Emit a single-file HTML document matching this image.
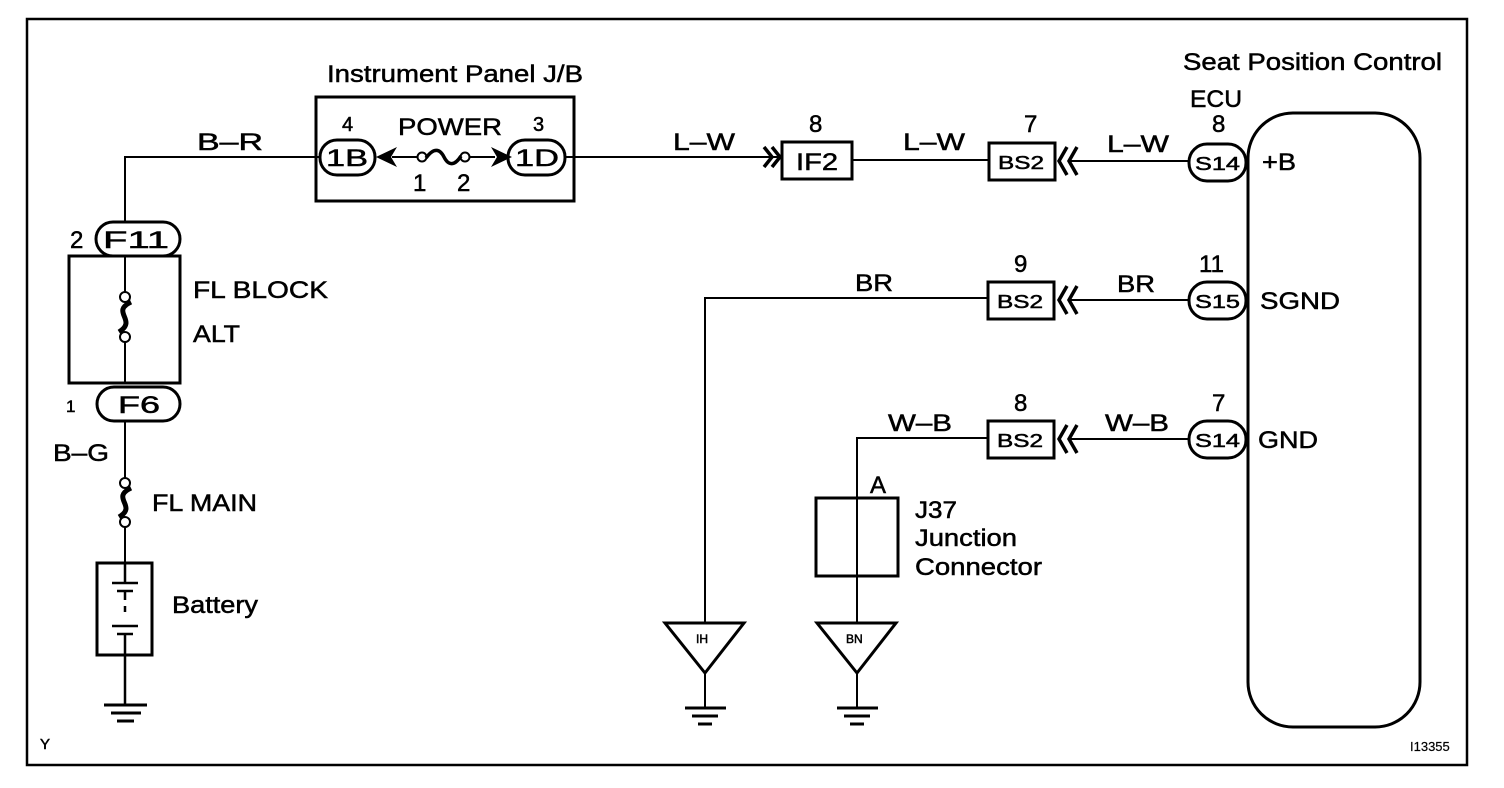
<!DOCTYPE html>
<html><head><style>
html,body{margin:0;padding:0;background:#fff}
svg{display:block}
text{font-family:"Liberation Sans",Arial,sans-serif;fill:#000;stroke:#000;stroke-width:0.5}
</style></head><body>
<svg width="1504" height="788" viewBox="0 0 1504 788" xmlns="http://www.w3.org/2000/svg">
<g fill="none" stroke="#000">
<rect x="27" y="19" width="1440" height="746" stroke-width="2.5"/>
<path d="M125 222 V157 H320" stroke-width="2"/>
<rect x="316" y="97" width="258" height="104" stroke-width="3"/>
<rect x="320" y="140" width="55" height="35" rx="17" stroke-width="3"/>
<rect x="508" y="140" width="57" height="35" rx="17" stroke-width="3"/>
<path d="M392 157 H418 M470 157 H495" stroke-width="2"/>
<circle cx="422" cy="157" r="4.5" stroke-width="2" fill="#fff"/>
<circle cx="465" cy="157" r="4.5" stroke-width="2" fill="#fff"/>
<path d="M426 158 C434 147,440 149,444 157 C448 165,454 167,461 156" stroke-width="3.5"/>
<path d="M565 157 H780" stroke-width="2"/>
<path d="M764 147 L772 157 L764 167 M772 147 L780 157 L772 167" stroke-width="3.5"/>
<rect x="782" y="142" width="70" height="37" stroke-width="3"/>
<path d="M852 160 H988" stroke-width="2"/>
<rect x="989" y="143" width="66" height="37" stroke-width="3"/>
<path d="M1067 147 L1059 161 L1067 175 M1077 147 L1069 161 L1077 175" stroke-width="3.5"/>
<path d="M1070 161 H1189" stroke-width="2"/>
<rect x="1189" y="144" width="57" height="37" rx="18" stroke-width="3"/>
<rect x="1248" y="113" width="172" height="614" rx="45" stroke-width="3"/>
<path d="M705 623 V298 H988" stroke-width="2"/>
<rect x="988" y="282" width="66" height="37" stroke-width="3"/>
<path d="M1067 286 L1059 300 L1067 314 M1077 286 L1069 300 L1077 314" stroke-width="3.5"/>
<path d="M1070 300 H1189" stroke-width="2"/>
<rect x="1189" y="282" width="57" height="37" rx="18" stroke-width="3"/>
<path d="M857 623 V438 H988" stroke-width="2"/>
<rect x="988" y="421" width="66" height="37" stroke-width="3"/>
<path d="M1067 425 L1059 439 L1067 453 M1077 425 L1069 439 L1077 453" stroke-width="3.5"/>
<path d="M1070 439 H1189" stroke-width="2"/>
<rect x="1189" y="421" width="57" height="37" rx="18" stroke-width="3"/>
<rect x="816" y="498" width="82" height="78" stroke-width="3"/>
<path d="M665 623 H744 L705 673 Z" stroke-width="3"/>
<path d="M705 673 V708" stroke-width="2"/>
<path d="M685 708 H726 M692 716 H718 M698 724 H712" stroke-width="3"/>
<path d="M817 623 H896 L857 673 Z" stroke-width="3"/>
<path d="M857 673 V708" stroke-width="2"/>
<path d="M837 708 H878 M844 716 H870 M850 724 H864" stroke-width="3"/>
<rect x="96" y="222" width="84" height="34" rx="17" stroke-width="3"/>
<rect x="69" y="256" width="111" height="127" stroke-width="3"/>
<path d="M125 256 V292 M125 342 V383" stroke-width="2"/>
<circle cx="125" cy="297" r="5" stroke-width="2"/>
<circle cx="125" cy="337" r="5" stroke-width="2"/>
<path d="M131 302 C110 312,138 320,119 332" stroke-width="5"/>
<rect x="97" y="387" width="83" height="34" rx="17" stroke-width="3"/>
<path d="M125 421 V478 M125 527 V565" stroke-width="2"/>
<circle cx="125" cy="483" r="5" stroke-width="2"/>
<circle cx="125" cy="522" r="5" stroke-width="2"/>
<path d="M131 488 C110 498,138 506,119 517" stroke-width="5"/>
<rect x="97" y="563" width="55" height="92" stroke-width="3"/>
<path d="M125 563 V583 M112 583 H138 M117 591 H133 M125 591 V600 M125 606 V612 M112 626 H138 M117 634 H133 M125 634 V705" stroke-width="2.5"/>
<path d="M104 705 H147 M111 713 H141 M117 721 H134" stroke-width="3"/>
</g>
<g fill="#000">
<path d="M376 157 L397 147 L391 157 L397 167 Z"/>
<path d="M512 157 L491 147 L497 157 L491 167 Z"/>
</g>
<g font-size="24">
<text x="1183" y="70" textLength="259" lengthAdjust="spacingAndGlyphs">Seat Position Control</text>
<text x="1190" y="107" textLength="52" lengthAdjust="spacingAndGlyphs">ECU</text>
<text x="327" y="82" textLength="256" lengthAdjust="spacingAndGlyphs">Instrument Panel J/B</text>
<text x="197" y="150" textLength="66" lengthAdjust="spacingAndGlyphs">B–R</text>
<text x="398" y="135" textLength="104" lengthAdjust="spacingAndGlyphs">POWER</text>
<text x="342" y="131" font-size="20">4</text>
<text x="533" y="131" font-size="20">3</text>
<text x="326" y="166" textLength="42" lengthAdjust="spacingAndGlyphs">1B</text>
<text x="515" y="166" textLength="44" lengthAdjust="spacingAndGlyphs">1D</text>
<text x="413" y="191">1</text>
<text x="457" y="191">2</text>
<text x="673" y="150" textLength="62" lengthAdjust="spacingAndGlyphs">L–W</text>
<text x="809" y="132">8</text>
<text x="796" y="170" textLength="42" lengthAdjust="spacingAndGlyphs">IF2</text>
<text x="903" y="150" textLength="62" lengthAdjust="spacingAndGlyphs">L–W</text>
<text x="1024" y="132">7</text>
<text x="1107" y="152" textLength="62" lengthAdjust="spacingAndGlyphs">L–W</text>
<text x="1212" y="132">8</text>
<text x="1262" y="170" textLength="34" lengthAdjust="spacingAndGlyphs">+B</text>
<text x="855" y="291" textLength="38" lengthAdjust="spacingAndGlyphs">BR</text>
<text x="1014" y="272">9</text>
<text x="1117" y="292" textLength="38" lengthAdjust="spacingAndGlyphs">BR</text>
<text x="1199" y="272">11</text>
<text x="1260" y="309" textLength="80" lengthAdjust="spacingAndGlyphs">SGND</text>
<text x="888" y="431" textLength="64" lengthAdjust="spacingAndGlyphs">W–B</text>
<text x="1014" y="411">8</text>
<text x="1105" y="431" textLength="64" lengthAdjust="spacingAndGlyphs">W–B</text>
<text x="1212" y="411">7</text>
<text x="1258" y="448" textLength="60" lengthAdjust="spacingAndGlyphs">GND</text>
<text x="870" y="493">A</text>
<text x="915" y="518" textLength="42" lengthAdjust="spacingAndGlyphs">J37</text>
<text x="915" y="546" textLength="102" lengthAdjust="spacingAndGlyphs">Junction</text>
<text x="915" y="575" textLength="127" lengthAdjust="spacingAndGlyphs">Connector</text>
<text x="103" y="248" textLength="66" lengthAdjust="spacingAndGlyphs">F11</text>
<text x="70" y="248">2</text>
<text x="193" y="298" textLength="135" lengthAdjust="spacingAndGlyphs">FL BLOCK</text>
<text x="193" y="342" textLength="47" lengthAdjust="spacingAndGlyphs">ALT</text>
<text x="118" y="413" textLength="42" lengthAdjust="spacingAndGlyphs">F6</text>
<text x="66" y="412" font-size="17">1</text>
<text x="53" y="461" textLength="56" lengthAdjust="spacingAndGlyphs">B–G</text>
<text x="152" y="511" textLength="105" lengthAdjust="spacingAndGlyphs">FL MAIN</text>
<text x="172" y="613" textLength="86" lengthAdjust="spacingAndGlyphs">Battery</text>
</g>
<g font-size="18">
<text x="998" y="169" textLength="46" lengthAdjust="spacingAndGlyphs">BS2</text>
<text x="997" y="308" textLength="46" lengthAdjust="spacingAndGlyphs">BS2</text>
<text x="997" y="447" textLength="46" lengthAdjust="spacingAndGlyphs">BS2</text>
<text x="1195" y="170" textLength="45" lengthAdjust="spacingAndGlyphs">S14</text>
<text x="1195" y="308" textLength="45" lengthAdjust="spacingAndGlyphs">S15</text>
<text x="1195" y="447" textLength="45" lengthAdjust="spacingAndGlyphs">S14</text>
<text x="696" y="643" font-size="12">IH</text>
<text x="846" y="643" font-size="12">BN</text>
<text x="40" y="749" font-size="15">Y</text>
<text x="1410" y="751" font-size="13" style="stroke-width:0.2">I13355</text>
</g>
</svg>
</body></html>
